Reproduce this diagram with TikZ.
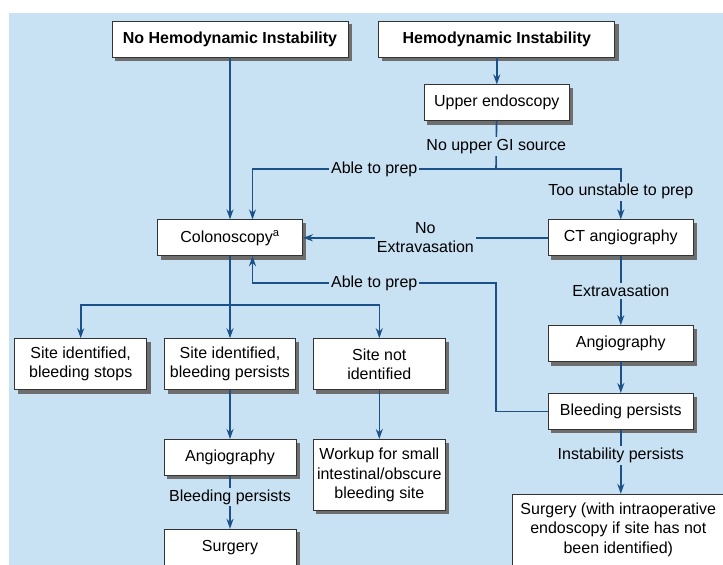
\documentclass[tikz,border=0pt]{standalone}
\usepackage{fontspec}
\setmainfont{Liberation Sans}
\usetikzlibrary{positioning, calc, arrows.meta, backgrounds}
\definecolor{bgblue}{HTML}{C8E1F3}
\definecolor{lineblue}{HTML}{1B5188}
\definecolor{shadowgray}{HTML}{6E6E6E}
\tikzstyle{Box} = [
draw=black!80, fill=white, line width=0.8pt,
align=center, inner sep=2pt,
font=\fontsize{16}{19.5}\selectfont,
minimum width=145pt, minimum height=36pt]
\tikzstyle{Arrow} = [lineblue, line width=1.6pt, -{Stealth[length=10pt, width=7pt]}]
\tikzstyle{Line} = [lineblue, line width=1.6pt]
\tikzstyle{Label} = [fill=bgblue, text=black, inner sep=2pt, align=center,
font=\fontsize{16}{19.5}\selectfont]

\begin{document}
\begin{tikzpicture}[x=1pt, y=-1pt]
    \useasboundingbox (0,0) rectangle (723,565);

    \node [Box, minimum width=236pt] (nhi) at (230,39) {\textbf{No Hemodynamic Instability}};
    \node [Box, minimum width=236pt, right =30pt of nhi] (hi) {\textbf{Hemodynamic Instability}};
    \node [Box, below =27pt of hi] (upper) {Upper endoscopy};
    \node [Box, below =162pt of nhi] (colon) {Colonoscopy\textsuperscript{a}};
    \node [Box, right =245pt of colon] (ct) {CT angiography};
    \node [Box, below =69pt of ct] (angioR) {Angiography};
    \node [Box, below =31pt of angioR] (bleedR) {Bleeding persists};
    \node [Box, minimum width=211pt, minimum height=71pt, below =64pt of bleedR, xshift=-2.5pt] (surgR)
        {Surgery (with intraoperative\\endoscopy if site has not\\been identified)};
    \node [Box, minimum width=131pt, minimum height=51pt, below =82pt of colon] (persists)
        {Site identified,\\bleeding persists};
    \node [Box, minimum width=132pt, minimum height=51pt, left =17pt of persists] (stops)
        {Site identified,\\bleeding stops};
    \node [Box, minimum width=132pt, minimum height=51pt, right =17pt of persists] (notid)
        {Site not\\identified};
    \node [Box, minimum width=132pt, below =49pt of persists] (angioL) {Angiography};
    \node [Box, minimum width=132pt, below =53pt of angioL] (surgL) {Surgery};
    \node [Box, minimum width=132pt, minimum height=71pt, below =49pt of notid] (workup)
        {Workup for small\\intestinal/obscure\\bleeding site};

    % background and box shadows
    \begin{pgfonlayer}{background}
        \fill[white] (0,0) rectangle (723,565);
        \fill[bgblue] (9,13) rectangle (723,565);
        \foreach \n in {nhi, hi, upper, colon, ct, angioR, bleedR, surgR,
                        persists, stops, notid, angioL, surgL, workup}
            \fill[shadowgray] ($(\n.south west)+(3.5pt,-3.5pt)$) rectangle ($(\n.north east)+(3.5pt,-3.5pt)$);
    \end{pgfonlayer}

    \coordinate (split) at (496,169);
    \coordinate (back) at (496,283);
    \coordinate (branch) at (230,305);

    \draw[Arrow] (hi) -- (upper);
    \draw[Line] (upper) -- node[Label, pos=0.53] {No upper GI source} (split);
    \draw[Arrow] (split) -| node[Label, pos=0.25] {Able to prep} ($(colon.north)+(22.5pt,0)$);
    \draw[Arrow] (split) -| node[Label, pos=0.72] {Too unstable to prep} (ct.north);
    \draw[Arrow] (nhi.south) -- (nhi.south |- colon.north);
    \draw[Arrow] (ct.west) -- node[Label] {No\\Extravasation} (colon.east);
    \draw[Arrow] (bleedR.west) -| (back) -| node[Label, pos=0.25] {Able to prep} ($(colon.south)+(22.5pt,0)$);
    \draw[Arrow] (ct) -- node[Label] {Extravasation} (angioR);
    \draw[Arrow] (angioR) -- (bleedR);
    \draw[Arrow] (bleedR.south) -- node[Label, pos=0.4] {Instability persists} (bleedR.south |- surgR.north);

    \draw[Line] (colon.south) -- (branch);
    \draw[Arrow] (branch) -| (stops.north);
    \draw[Arrow] (branch) -- (persists.north);
    \draw[Arrow] (branch) -| (notid.north);
    \draw[Arrow] (persists) -- (angioL);
    \draw[Arrow] (notid) -- (workup);
    \draw[Arrow] (angioL) -- node[Label, pos=0.4] {Bleeding persists} (surgL);
\end{tikzpicture}
\end{document}
